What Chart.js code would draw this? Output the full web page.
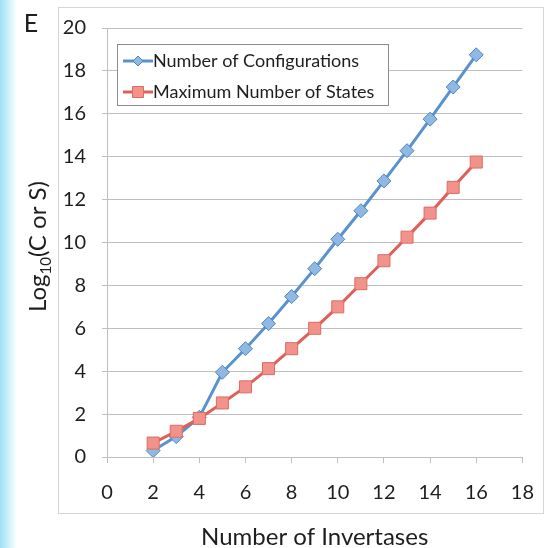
<!DOCTYPE html>
<html>
<head>
<meta charset="utf-8">
<script src="https://cdn.jsdelivr.net/npm/chart.js@4.4.0/dist/chart.umd.min.js"></script>
<style>
html, body { margin: 0; padding: 0; }
body {
    width: 552px; height: 548px; overflow: hidden;
    background: linear-gradient(to right, #9fe1f6 0px, #c4edfa 7px, #ffffff 17px);
}
#grafico { display: block; }
</style>
</head>
<body>
<canvas id="grafico" width="552" height="548"></canvas>
<script>
// Datos
const invertasas = [2, 3, 4, 5, 6, 7, 8, 9, 10, 11, 12, 13, 14, 15, 16];
const configuraciones = [0.3, 0.95, 1.85, 3.95, 5.05, 6.22, 7.48, 8.78, 10.15, 11.48, 12.87, 14.28, 15.75, 17.25, 18.75];
const estados = [0.65, 1.2, 1.8, 2.52, 3.27, 4.12, 5.05, 6.0, 7.0, 8.08, 9.15, 10.25, 11.37, 12.57, 13.75];
const ticksX = [0, 2, 4, 6, 8, 10, 12, 14, 16, 18];
const ticksY = [0, 2, 4, 6, 8, 10, 12, 14, 16, 18, 20];
const etiquetas = ['Number of Configurations', 'Maximum Number of States'];

const FUENTE = 'Lato, "Open Sans", sans-serif';
const TEXTO = '#1e1e1e';
const REJILLA = '#bfbfbf';

const serieAzul = { linea: '#5892cf', relleno: '#8fb8e2', borde: '#4f88c4' };
const serieRoja = { linea: '#df5f59', relleno: '#f2938b', borde: '#de6a62' };

function puntos(ys) {
    return invertasas.map((x, i) => ({ x: x, y: ys[i] }));
}

// Marco exterior, letra "E", título del eje Y con subíndice y leyenda con caja
const decoracion = {
    id: 'decoracion',
    beforeDraw(chart) {
        const ctx = chart.ctx;
        ctx.save();
        ctx.fillStyle = '#ffffff';
        ctx.fillRect(58, 7, 485, 506);
        ctx.strokeStyle = '#d6d6d6';
        ctx.lineWidth = 1;
        ctx.strokeRect(58.5, 7.5, 485, 506);
        ctx.restore();
    },
    afterDraw(chart) {
        const ctx = chart.ctx;
        const ca = chart.chartArea;
        ctx.save();

        // letra del panel
        ctx.fillStyle = TEXTO;
        ctx.font = '25px ' + FUENTE;
        ctx.textAlign = 'center';
        ctx.textBaseline = 'middle';
        ctx.fillText('E', 31, 24);

        // título del eje Y: Log10(C or S)
        const grande = '24px ' + FUENTE;
        const chica = '15px ' + FUENTE;
        ctx.font = grande;
        const w1 = ctx.measureText('Log').width;
        const w3 = ctx.measureText('(C or S)').width;
        ctx.font = chica;
        const w2 = ctx.measureText('10').width;
        const total = w1 + w2 + w3;
        ctx.translate(46, (ca.top + ca.bottom) / 2 + 4);
        ctx.rotate(-Math.PI / 2);
        ctx.textAlign = 'left';
        ctx.textBaseline = 'alphabetic';
        let px = -total / 2;
        ctx.font = grande;
        ctx.fillText('Log', px, 0);
        px += w1;
        ctx.font = chica;
        ctx.fillText('10', px, 5);
        px += w2;
        ctx.font = grande;
        ctx.fillText('(C or S)', px, 0);
        ctx.setTransform(1, 0, 0, 1, 0, 0);

        // leyenda
        const lx = ca.left + 10, ly = ca.top + 16, lw = 271, lh = 61;
        ctx.fillStyle = '#ffffff';
        ctx.fillRect(lx, ly, lw, lh);
        ctx.strokeStyle = '#8c8c8c';
        ctx.lineWidth = 1;
        ctx.strokeRect(lx + 0.5, ly + 0.5, lw, lh);

        const estilos = [serieAzul, serieRoja];
        const filas = [ly + 17, ly + 48];
        estilos.forEach((s, i) => {
            const y = filas[i];
            ctx.strokeStyle = s.linea;
            ctx.lineWidth = 3;
            ctx.beginPath();
            ctx.moveTo(lx + 6, y);
            ctx.lineTo(lx + 36, y);
            ctx.stroke();
            const mx = lx + 21;
            ctx.fillStyle = s.relleno;
            ctx.strokeStyle = s.borde;
            ctx.lineWidth = 1;
            ctx.beginPath();
            if (i === 0) {
                ctx.moveTo(mx, y - 5);
                ctx.lineTo(mx + 5, y);
                ctx.lineTo(mx, y + 5);
                ctx.lineTo(mx - 5, y);
                ctx.closePath();
            } else {
                ctx.rect(mx - 5.5, y - 5.5, 11, 11);
            }
            ctx.fill();
            ctx.stroke();

            ctx.fillStyle = TEXTO;
            ctx.font = '18px ' + FUENTE;
            ctx.textAlign = 'left';
            ctx.textBaseline = 'middle';
            ctx.fillText(etiquetas[i], lx + 36, y);
        });
        ctx.restore();
    }
};

const ctx = document.getElementById('grafico').getContext('2d');
const miGrafico = new Chart(ctx, {
    type: 'line',
    data: {
        datasets: [
            {
                label: etiquetas[0],
                data: puntos(configuraciones),
                borderColor: serieAzul.linea,
                borderWidth: 3,
                pointStyle: 'rectRot',
                pointRadius: 7,
                pointBackgroundColor: serieAzul.relleno,
                pointBorderColor: serieAzul.borde,
                pointBorderWidth: 1,
                tension: 0,
                order: 1
            },
            {
                label: etiquetas[1],
                data: puntos(estados),
                borderColor: serieRoja.linea,
                borderWidth: 3,
                pointStyle: 'rect',
                pointRadius: 8.5,
                pointBackgroundColor: serieRoja.relleno,
                pointBorderColor: serieRoja.borde,
                pointBorderWidth: 1,
                tension: 0,
                order: 0
            }
        ]
    },
    options: {
        responsive: false,
        animation: false,
        devicePixelRatio: 1,
        layout: { padding: { left: 20, top: 22, right: 26, bottom: 0 } },
        plugins: {
            legend: { display: false },
            tooltip: { enabled: false }
        },
        scales: {
            x: {
                type: 'linear',
                min: 0,
                max: 18,
                afterBuildTicks: s => { s.ticks = ticksX.map(v => ({ value: v })); },
                afterFit: s => { s.height = 91; },
                grid: { drawOnChartArea: false, drawTicks: true, tickLength: 6, color: REJILLA },
                border: { color: REJILLA },
                ticks: { color: TEXTO, padding: 18, maxRotation: 0, font: { family: FUENTE, size: 20 } },
                title: {
                    display: true,
                    text: 'Number of Invertases',
                    color: TEXTO,
                    padding: 0,
                    font: { family: FUENTE, size: 24, lineHeight: 0.9 }
                }
            },
            y: {
                type: 'linear',
                min: 0,
                max: 20,
                afterBuildTicks: s => { s.ticks = ticksY.map(v => ({ value: v })); },
                afterFit: s => { s.width = 87; },
                grid: { color: REJILLA, tickLength: 5 },
                border: { color: REJILLA },
                ticks: { color: TEXTO, padding: 16, font: { family: FUENTE, size: 20 } }
            }
        }
    },
    plugins: [decoracion]
});
</script>
</body>
</html>
